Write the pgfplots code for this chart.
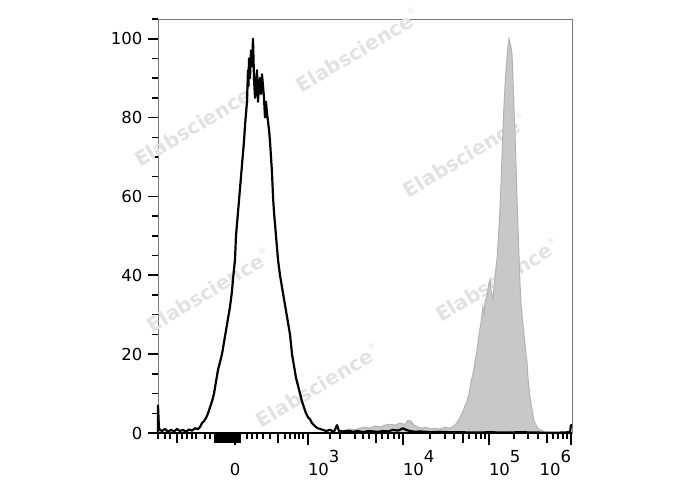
\documentclass[border=0pt]{standalone}
\usepackage{fontspec}
\setmainfont{DejaVu Sans}
\usepackage{pgfplots}
\pgfplotsset{compat=1.18}
\definecolor{wm}{RGB}{226,226,226}
\definecolor{grayfill}{RGB}{200,200,200}
\definecolor{grayedge}{RGB}{178,178,178}
\definecolor{frame}{RGB}{120,120,120}
\newcommand{\sx}[1]{10\raisebox{13pt}{#1}}
\newcommand{\wmark}{Elabscience\raisebox{11pt}{\fontsize{8pt}{8pt}\selectfont\mdseries ®}}
\begin{document}
\fontsize{16.5pt}{19pt}\selectfont
\begin{tikzpicture}
\useasboundingbox (-158pt,-57pt) rectangle (530pt,433pt);
\begin{axis}[
  at={(0pt,0pt)}, anchor=south west,
  scale only axis, width=414pt, height=414pt,
  xmin=158, xmax=572, ymin=0, ymax=105,
  axis line style={draw=frame, line width=0.9pt},
  tick align=outside, tick pos=left,
  /pgf/number format/assume math mode=true,
  ytick={0,20,40,60,80,100},
  minor ytick={5,10,15,25,30,35,45,50,55,65,70,75,85,90,95,105},
  major tick length=10pt, minor tick length=5.5pt,
  every major tick/.style={black, line width=1.8pt},
  every minor tick/.style={black, line width=1.3pt},
  yticklabel style={font=\fontsize{16.5pt}{19pt}\selectfont},
  xtick={177,215,216.5,218,219.5,221,222.5,224,225.5,227,228.5,230,231.5,233,234.5,236,237.5,239,240.5,278,376,463,547},
  xticklabel={\mbox{}},
  minor xtick={158,165,170,182,187,192,196,205,210,247,252,257,263,270,285,290,295,299,303,330,340,355,363,369,382,388,394,399,430,445,454,469,476,481,485,514,528,538,553,558,563,567},
  extra x ticks={235,308,403,489,571},
  extra x tick labels={\makebox[0pt][c]{\vphantom{\sx{3}}0},\makebox[0pt][l]{\sx{3}},\makebox[0pt][l]{\sx{4}},\makebox[0pt][l]{\sx{5}},\makebox[0pt][r]{\sx{6}}},
  extra x tick style={major tick length=12pt, every major tick/.style={black, line width=2.2pt},
     xticklabel style={anchor=north, font=\fontsize{16.5pt}{19pt}\selectfont}},
  clip=false,
]
% watermarks
\begin{scope}[every node/.style={rotate=31, text=wm, font=\bfseries\fontsize{20pt}{20pt}\selectfont}]
\node at (rel axis cs:0.482,0.925) {\wmark};
\node at (rel axis cs:0.092,0.745) {\wmark};
\node at (rel axis cs:0.741,0.671) {\wmark};
\node at (rel axis cs:0.122,0.345) {\wmark};
\node at (rel axis cs:0.819,0.370) {\wmark};
\node at (rel axis cs:0.386,0.116) {\wmark};
\end{scope}
% gray filled histogram
\addplot[draw=grayedge, line width=1pt, fill=grayfill] coordinates {
(340,0) (345,0.5) (350,1) (355,0.8) (360,1.2) (365,1.5) (370,1.2) (375,1.8) (380,1.5)
(385,2) (390,2.2) (395,2) (400,2.5) (405,2.2) (408,3.2) (411,3) (414,2) (418,1.5)
(422,1.2) (426,1.5) (430,1) (435,1.2) (440,1) (445,1.5) (450,1.2) (455,2) (458,3)
(460,4) (463,5.5) (465,7) (467,8) (469,10) (471,13) (473,15) (475,18) (477,21)
(479,25) (481,28) (482,30) (483,32) (484,30) (485,33) (487,35) (489,38) (490,39)
(491,36) (493,34) (494,37) (496,42) (497,44) (498,48) (499,52) (500,57) (501,63)
(502,70) (503,77) (504,83) (505,88) (506,92) (507,95) (508,98) (509,100) (510,99)
(511,98) (512,96) (513,90) (514,82) (515,76) (516,68) (517,60) (518,52) (519,45)
(520,38) (521,33) (522,30) (524,25) (526,20) (527,18) (528,14) (530,9) (532,6)
(534,3) (536,2) (538,1.2) (540,0.8) (543,0.5) (546,0)
} -- cycle;
% black histogram
\addplot[black, line width=2.2pt, line join=round] coordinates {
(158,0) (158,7) (159,1) (162,0.5) (165,1) (168,0.3) (171,0.8) (174,0.4) (177,1)
(180,0.5) (183,0.8) (186,0.3) (189,0.9) (192,0.6) (195,1.2) (198,1.0) (200,1.5)
(202,2.5) (204,3) (206,3.8) (208,5) (210,6.5) (212,8) (214,10) (216,13) (218,16)
(220,18) (222,20) (224,23) (226,26) (228,29) (230,32) (232,36) (233,39) (235,44)
(236,50) (237,53) (238,56) (240,62) (242,68) (243,71) (244,74) (245,78) (246,81)
(247,84) (248,92) (248.5,88) (249,95) (250,90) (251,97) (252,93) (253,100) (254,90)
(255,85) (256,88) (257,92) (258,84) (259,88) (260,90) (261,86) (262,91) (263,88)
(264,85) (265,80) (266,84) (267,81) (268,79) (269,77) (270,74) (271,70) (272,66)
(273,60) (274,56) (275,53) (276,50) (277,47) (278,44) (279,42) (280,40) (282,37)
(284,34) (286,31) (288,28) (290,25) (292,20) (294,17) (296,14) (298,12) (300,10)
(302,8) (304,6.5) (306,5) (308,4) (310,3.5) (312,2.5) (314,2) (316,1.5) (318,1.2)
(320,1) (323,0.8) (326,0.5) (330,0.8) (334,0.3) (337,2) (339,0.5) (343,0.4)
(348,0.6) (353,0.3) (358,0.5) (363,0.2) (368,0.5) (373,0.4) (378,0.3) (383,0.5)
(388,0.4) (393,0.8) (398,0.6) (403,1.2) (406,0.8) (410,0.5) (415,0.3) (420,0.4)
(430,0.2) (440,0.3) (450,0.2) (460,0.2) (475,0.1) (490,0.2) (505,0.1) (520,0.2)
(540,0.1) (560,0.1) (570,0.2) (571,2) (572,2)
};
\draw[black, line width=1.8pt] (rel axis cs:0,0) -- (rel axis cs:1,0);
\end{axis}
\end{tikzpicture}
\end{document}
